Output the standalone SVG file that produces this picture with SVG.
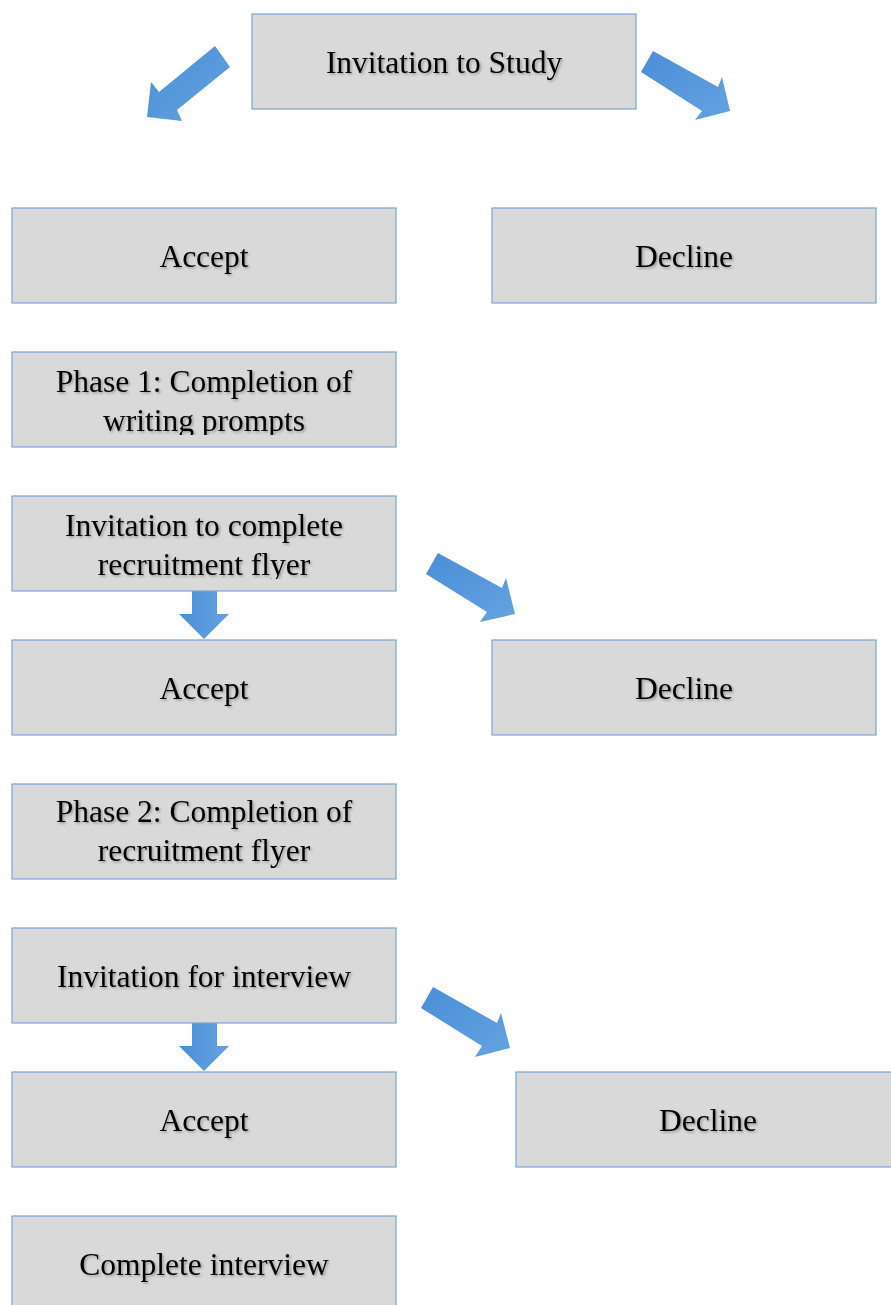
<svg xmlns="http://www.w3.org/2000/svg" width="891" height="1305" viewBox="0 0 891 1305">
  <defs>
    <linearGradient id="ag" x1="0" y1="0" x2="1" y2="1">
      <stop offset="0" stop-color="#4a8ed7"/>
      <stop offset="1" stop-color="#64a3e0"/>
    </linearGradient>
    <linearGradient id="agv" x1="0" y1="0" x2="1" y2="0">
      <stop offset="0" stop-color="#4a8ed7"/>
      <stop offset="1" stop-color="#64a3e0"/>
    </linearGradient>
    <filter id="ts" x="-10%" y="-30%" width="120%" height="160%">
      <feDropShadow dx="1.5" dy="1.5" stdDeviation="1" flood-color="#000" flood-opacity="0.3"/>
    </filter>
    <clipPath id="c1"><rect x="12" y="352" width="384" height="83"/></clipPath>
    <clipPath id="c2"><rect x="12" y="496" width="384" height="83"/></clipPath>
    <clipPath id="c3"><rect x="12" y="784" width="384" height="84"/></clipPath>
  </defs>
  <style>
    .box { fill: #d9d9d9; stroke: #76a5da; stroke-width: 1.2; }
    .t { font-family: "Liberation Serif", "Times New Roman", serif; font-size: 31.5px; fill: #000; text-anchor: middle; filter: url(#ts); }
    .arr { fill: url(#ag); }
    .arrv { fill: url(#agv); }
  </style>
  <rect width="891" height="1305" fill="#ffffff"/>

  <g id="connectors">
    <polygon class="arr" points="215,46 230,67 177,110 182,121 147,117 151,82 159,92"/>
    <polygon class="arr" points="653,51 718,87 722,77 730,111 695,120 702,111 641,72"/>
    <polygon class="arr" points="438,553 502,588 506,578 515,614 480,622 487,612 426,574"/>
    <polygon class="arr" points="433,987 497,1023 501,1013 510,1048 475,1057 482,1046 421,1008"/>
    <polygon class="arrv" points="192,591 217,591 217,614 229,614 204,639 179,614 192,614"/>
    <polygon class="arrv" points="192,1023 217,1023 217,1046 229,1046 204,1071 179,1046 192,1046"/>
  </g>

  <g id="n-invitation-study">
    <rect class="box" x="252" y="14" width="384" height="95"/>
    <text class="t" x="444" y="72.5">Invitation to Study</text>
  </g>
  <g id="n-accept1">
    <rect class="box" x="12" y="208" width="384" height="95"/>
    <text class="t" x="204" y="266.5">Accept</text>
  </g>
  <g id="n-decline1">
    <rect class="box" x="492" y="208" width="384" height="95"/>
    <text class="t" x="684" y="266.5">Decline</text>
  </g>
  <g id="n-phase1">
    <rect class="box" x="12" y="352" width="384" height="95"/>
    <g clip-path="url(#c1)">
      <text class="t" x="204" y="391.7">Phase 1: Completion of</text>
      <text class="t" x="204" y="430.7">writing prompts</text>
    </g>
  </g>
  <g id="n-invitation-flyer">
    <rect class="box" x="12" y="496" width="384" height="95"/>
    <g clip-path="url(#c2)">
      <text class="t" x="204" y="535.7">Invitation to complete</text>
      <text class="t" x="204" y="574.7">recruitment flyer</text>
    </g>
  </g>
  <g id="n-accept2">
    <rect class="box" x="12" y="640" width="384" height="95"/>
    <text class="t" x="204" y="698.5">Accept</text>
  </g>
  <g id="n-decline2">
    <rect class="box" x="492" y="640" width="384" height="95"/>
    <text class="t" x="684" y="698.5">Decline</text>
  </g>
  <g id="n-phase2">
    <rect class="box" x="12" y="784" width="384" height="95"/>
    <g clip-path="url(#c3)">
      <text class="t" x="204" y="821.7">Phase 2: Completion of</text>
      <text class="t" x="204" y="860.7">recruitment flyer</text>
    </g>
  </g>
  <g id="n-invitation-interview">
    <rect class="box" x="12" y="928" width="384" height="95"/>
    <text class="t" x="204" y="986.5">Invitation for interview</text>
  </g>
  <g id="n-accept3">
    <rect class="box" x="12" y="1072" width="384" height="95"/>
    <text class="t" x="204" y="1130.5">Accept</text>
  </g>
  <g id="n-decline3">
    <rect class="box" x="516" y="1072" width="384" height="95"/>
    <text class="t" x="708" y="1130.5">Decline</text>
  </g>
  <g id="n-complete-interview">
    <rect class="box" x="12" y="1216" width="384" height="95"/>
    <text class="t" x="204" y="1274.5">Complete interview</text>
  </g>
</svg>
